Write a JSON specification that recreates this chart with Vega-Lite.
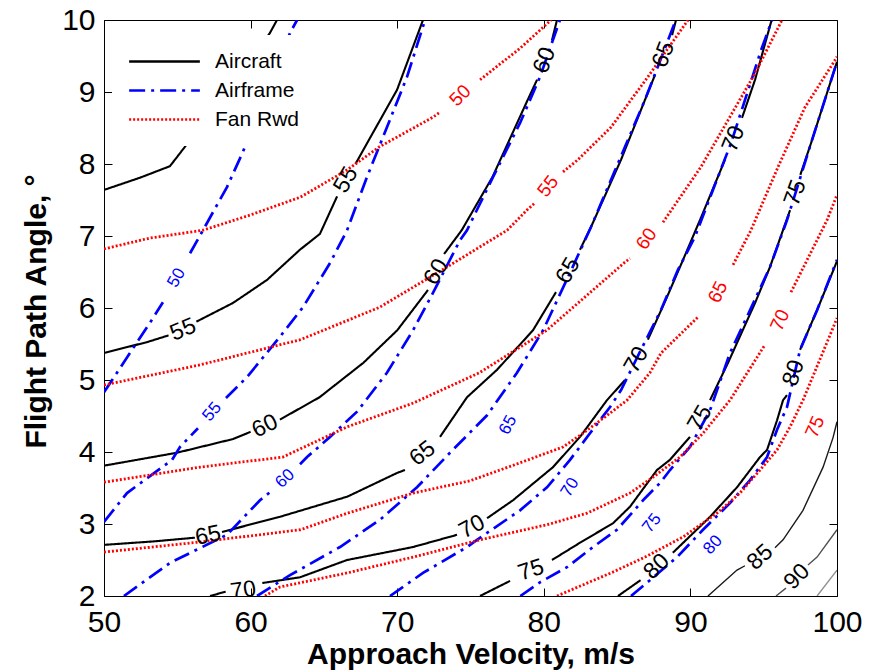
{
"$schema":"https://vega.github.io/schema/vega-lite/v6.json",
"width":733,"height":576,
"autosize":"none",
"padding":{"left":104,"top":20,"right":41,"bottom":76},
"background":"white",
"config":{
"view":{"stroke":"black","strokeWidth":1},
"axis":{"grid":false,"domain":false,"tickColor":"black","labelColor":"black","labelFont":"Liberation Sans","titleFont":"Liberation Sans","titleColor":"black","labelFontSize":30,"titleFontSize":30,"titleFontWeight":"bold","tickSize":8,"offset":-8,"tickWidth":1,"labelFlush":false,"labelOverlap":false},
"legend":{"orient":"none","legendX":8,"legendY":15,"padding":16,"fillColor":"white","symbolType":"M-5,0H5","symbolSize":200,"symbolStrokeWidth":2.6,"symbolOffset":26,"labelFontSize":21,"labelFont":"Liberation Sans","labelColor":"black","labelOffset":40,"rowPadding":7}
},
"datasets":{
"lines":[
{"s":"Aircraft","lv":50,"g":"k50","v":50,"a":7.64},{"s":"Aircraft","lv":50,"g":"k50","v":52.46,"a":7.81},{"s":"Aircraft","lv":50,"g":"k50","v":54.5,"a":7.97},{"s":"Aircraft","lv":50,"g":"k50","v":55.6,"a":8.26},{"s":"Aircraft","lv":50,"g":"k50","v":58.5,"a":9.0},{"s":"Aircraft","lv":50,"g":"k50","v":61.32,"a":9.82},{"s":"Aircraft","lv":50,"g":"k50","v":61.8,"a":10},
{"s":"Aircraft","lv":55,"g":"k55a","v":50,"a":5.375},{"s":"Aircraft","lv":55,"g":"k55a","v":53.0,"a":5.53},{"s":"Aircraft","lv":55,"g":"k55a","v":54.4,"a":5.62},
{"s":"Aircraft","lv":55,"g":"k55b","v":56.3,"a":5.81},{"s":"Aircraft","lv":55,"g":"k55b","v":58.8,"a":6.07},{"s":"Aircraft","lv":55,"g":"k55b","v":61.12,"a":6.39},{"s":"Aircraft","lv":55,"g":"k55b","v":63.37,"a":6.81},{"s":"Aircraft","lv":55,"g":"k55b","v":64.73,"a":7.03},{"s":"Aircraft","lv":55,"g":"k55b","v":65.9,"a":7.55},
{"s":"Aircraft","lv":55,"g":"k55c","v":67.15,"a":8.0},{"s":"Aircraft","lv":55,"g":"k55c","v":69.99,"a":9.03},{"s":"Aircraft","lv":55,"g":"k55c","v":71.76,"a":10},
{"s":"Aircraft","lv":60,"g":"k60a","v":50,"a":3.81},{"s":"Aircraft","lv":60,"g":"k60a","v":54.98,"a":3.99},{"s":"Aircraft","lv":60,"g":"k60a","v":58.8,"a":4.18},{"s":"Aircraft","lv":60,"g":"k60a","v":60.0,"a":4.28},
{"s":"Aircraft","lv":60,"g":"k60b","v":62.0,"a":4.45},{"s":"Aircraft","lv":60,"g":"k60b","v":64.7,"a":4.76},{"s":"Aircraft","lv":60,"g":"k60b","v":67.7,"a":5.24},{"s":"Aircraft","lv":60,"g":"k60b","v":70.0,"a":5.69},{"s":"Aircraft","lv":60,"g":"k60b","v":72.1,"a":6.25},
{"s":"Aircraft","lv":60,"g":"k60c","v":73.2,"a":6.75},{"s":"Aircraft","lv":60,"g":"k60c","v":74.4,"a":7.08},{"s":"Aircraft","lv":60,"g":"k60c","v":76.5,"a":7.82},{"s":"Aircraft","lv":60,"g":"k60c","v":78.9,"a":8.89},{"s":"Aircraft","lv":60,"g":"k60c","v":79.54,"a":9.17},
{"s":"Aircraft","lv":60,"g":"k60d","v":80.56,"a":9.72},{"s":"Aircraft","lv":60,"g":"k60d","v":80.9,"a":10},
{"s":"Aircraft","lv":65,"g":"k65a","v":50,"a":2.71},{"s":"Aircraft","lv":65,"g":"k65a","v":53.5,"a":2.76},{"s":"Aircraft","lv":65,"g":"k65a","v":56.2,"a":2.81},
{"s":"Aircraft","lv":65,"g":"k65b","v":58.05,"a":2.89},{"s":"Aircraft","lv":65,"g":"k65b","v":62.0,"a":3.1},{"s":"Aircraft","lv":65,"g":"k65b","v":66.6,"a":3.38},{"s":"Aircraft","lv":65,"g":"k65b","v":70.0,"a":3.71},{"s":"Aircraft","lv":65,"g":"k65b","v":70.53,"a":3.75},
{"s":"Aircraft","lv":65,"g":"k65c","v":72.92,"a":4.21},{"s":"Aircraft","lv":65,"g":"k65c","v":74.76,"a":4.76},{"s":"Aircraft","lv":65,"g":"k65c","v":76.8,"a":5.14},{"s":"Aircraft","lv":65,"g":"k65c","v":79.26,"a":5.69},{"s":"Aircraft","lv":65,"g":"k65c","v":80.83,"a":6.22},
{"s":"Aircraft","lv":65,"g":"k65d","v":82.47,"a":6.81},{"s":"Aircraft","lv":65,"g":"k65d","v":83.22,"a":7.125},{"s":"Aircraft","lv":65,"g":"k65d","v":85.27,"a":8.06},{"s":"Aircraft","lv":65,"g":"k65d","v":86.9,"a":8.89},{"s":"Aircraft","lv":65,"g":"k65d","v":87.59,"a":9.24},
{"s":"Aircraft","lv":65,"g":"k65e","v":88.75,"a":9.79},{"s":"Aircraft","lv":65,"g":"k65e","v":89.02,"a":10},
{"s":"Aircraft","lv":70,"g":"k70a","v":57.23,"a":2.0},{"s":"Aircraft","lv":70,"g":"k70a","v":58.3,"a":2.06},
{"s":"Aircraft","lv":70,"g":"k70b","v":60.8,"a":2.18},{"s":"Aircraft","lv":70,"g":"k70b","v":63.37,"a":2.26},{"s":"Aircraft","lv":70,"g":"k70b","v":66.58,"a":2.5},{"s":"Aircraft","lv":70,"g":"k70b","v":71.08,"a":2.68},{"s":"Aircraft","lv":70,"g":"k70b","v":74.08,"a":2.85},
{"s":"Aircraft","lv":70,"g":"k70c","v":76.13,"a":3.08},{"s":"Aircraft","lv":70,"g":"k70c","v":77.9,"a":3.33},{"s":"Aircraft","lv":70,"g":"k70c","v":80.63,"a":3.79},{"s":"Aircraft","lv":70,"g":"k70c","v":82.47,"a":4.21},{"s":"Aircraft","lv":70,"g":"k70c","v":84.31,"a":4.72},{"s":"Aircraft","lv":70,"g":"k70c","v":85.54,"a":5.0},
{"s":"Aircraft","lv":70,"g":"k70d","v":87.1,"a":5.56},{"s":"Aircraft","lv":70,"g":"k70d","v":88.4,"a":6.15},{"s":"Aircraft","lv":70,"g":"k70d","v":89.5,"a":6.67},{"s":"Aircraft","lv":70,"g":"k70d","v":90.65,"a":7.22},{"s":"Aircraft","lv":70,"g":"k70d","v":92.36,"a":8.06},
{"s":"Aircraft","lv":70,"g":"k70e","v":93.52,"a":8.64},{"s":"Aircraft","lv":70,"g":"k70e","v":94.41,"a":9.17},{"s":"Aircraft","lv":70,"g":"k70e","v":95.5,"a":9.97},{"s":"Aircraft","lv":70,"g":"k70e","v":95.57,"a":10},
{"s":"Aircraft","lv":75,"g":"k75a","v":75.65,"a":2.0},{"s":"Aircraft","lv":75,"g":"k75a","v":77.7,"a":2.21},
{"s":"Aircraft","lv":75,"g":"k75b","v":80.56,"a":2.5},{"s":"Aircraft","lv":75,"g":"k75b","v":82.47,"a":2.74},{"s":"Aircraft","lv":75,"g":"k75b","v":84.72,"a":3.01},{"s":"Aircraft","lv":75,"g":"k75b","v":85.88,"a":3.24},{"s":"Aircraft","lv":75,"g":"k75b","v":87.72,"a":3.75},{"s":"Aircraft","lv":75,"g":"k75b","v":88.6,"a":3.89},{"s":"Aircraft","lv":75,"g":"k75b","v":89.97,"a":4.21},
{"s":"Aircraft","lv":75,"g":"k75c","v":91.34,"a":4.72},{"s":"Aircraft","lv":75,"g":"k75c","v":92.57,"a":5.24},{"s":"Aircraft","lv":75,"g":"k75c","v":94.41,"a":6.07},{"s":"Aircraft","lv":75,"g":"k75c","v":95.43,"a":6.57},{"s":"Aircraft","lv":75,"g":"k75c","v":96.8,"a":7.36},
{"s":"Aircraft","lv":75,"g":"k75d","v":97.5,"a":7.85},{"s":"Aircraft","lv":75,"g":"k75d","v":98.23,"a":8.29},{"s":"Aircraft","lv":75,"g":"k75d","v":100,"a":9.42},
{"s":"Aircraft","lv":80,"g":"k80a","v":85.06,"a":2.0},{"s":"Aircraft","lv":80,"g":"k80a","v":86.6,"a":2.22},
{"s":"Aircraft","lv":80,"g":"k80b","v":88.8,"a":2.6},{"s":"Aircraft","lv":80,"g":"k80b","v":91.34,"a":3.1},{"s":"Aircraft","lv":80,"g":"k80b","v":93.18,"a":3.51},{"s":"Aircraft","lv":80,"g":"k80b","v":94.75,"a":3.93},{"s":"Aircraft","lv":80,"g":"k80b","v":95.23,"a":4.03},{"s":"Aircraft","lv":80,"g":"k80b","v":95.91,"a":4.44},{"s":"Aircraft","lv":80,"g":"k80b","v":96.32,"a":4.72},{"s":"Aircraft","lv":80,"g":"k80b","v":96.59,"a":4.79},
{"s":"Aircraft","lv":80,"g":"k80c","v":97.48,"a":5.42},{"s":"Aircraft","lv":80,"g":"k80c","v":98.64,"a":5.97},{"s":"Aircraft","lv":80,"g":"k80c","v":100,"a":6.65},
{"s":"Aircraft","lv":85,"g":"k85a","v":91.2,"a":2.0},{"s":"Aircraft","lv":85,"g":"k85a","v":93.18,"a":2.36},{"s":"Aircraft","lv":85,"g":"k85a","v":93.72,"a":2.42},
{"s":"Aircraft","lv":85,"g":"k85b","v":95.77,"a":2.67},{"s":"Aircraft","lv":85,"g":"k85b","v":96.32,"a":2.78},{"s":"Aircraft","lv":85,"g":"k85b","v":97.68,"a":3.19},{"s":"Aircraft","lv":85,"g":"k85b","v":99.05,"a":3.79},{"s":"Aircraft","lv":85,"g":"k85b","v":99.73,"a":4.2},{"s":"Aircraft","lv":85,"g":"k85b","v":100,"a":4.42},
{"s":"Aircraft","lv":90,"g":"k90a","v":95.84,"a":2.0},{"s":"Aircraft","lv":90,"g":"k90a","v":96.52,"a":2.11},
{"s":"Aircraft","lv":90,"g":"k90b","v":98.02,"a":2.43},{"s":"Aircraft","lv":90,"g":"k90b","v":98.64,"a":2.54},{"s":"Aircraft","lv":90,"g":"k90b","v":100,"a":2.92},
{"s":"Aircraft","lv":95,"g":"k95","v":98.64,"a":2.0},{"s":"Aircraft","lv":95,"g":"k95","v":100,"a":2.36},
{"s":"Airframe","lv":50,"g":"b50a","v":50,"a":4.83},{"s":"Airframe","lv":50,"g":"b50a","v":51.77,"a":5.375},{"s":"Airframe","lv":50,"g":"b50a","v":53.34,"a":5.86},{"s":"Airframe","lv":50,"g":"b50a","v":54.02,"a":6.08},
{"s":"Airframe","lv":50,"g":"b50b","v":55.87,"a":6.76},{"s":"Airframe","lv":50,"g":"b50b","v":56.75,"a":7.08},{"s":"Airframe","lv":50,"g":"b50b","v":58.39,"a":7.68},{"s":"Airframe","lv":50,"g":"b50b","v":59.48,"a":8.17},{"s":"Airframe","lv":50,"g":"b50b","v":61.32,"a":9.1},{"s":"Airframe","lv":50,"g":"b50b","v":62.69,"a":9.82},{"s":"Airframe","lv":50,"g":"b50b","v":63.17,"a":10},
{"s":"Airframe","lv":55,"g":"b55a","v":50,"a":3.03},{"s":"Airframe","lv":55,"g":"b55a","v":51.57,"a":3.43},{"s":"Airframe","lv":55,"g":"b55a","v":54.64,"a":3.89},{"s":"Airframe","lv":55,"g":"b55a","v":55.18,"a":4.07},{"s":"Airframe","lv":55,"g":"b55a","v":56.41,"a":4.33},
{"s":"Airframe","lv":55,"g":"b55b","v":58.32,"a":4.75},{"s":"Airframe","lv":55,"g":"b55b","v":59.75,"a":5.04},{"s":"Airframe","lv":55,"g":"b55b","v":62.0,"a":5.6},{"s":"Airframe","lv":55,"g":"b55b","v":63.57,"a":6.01},{"s":"Airframe","lv":55,"g":"b55b","v":65.42,"a":6.625},{"s":"Airframe","lv":55,"g":"b55b","v":66.58,"a":7.08},{"s":"Airframe","lv":55,"g":"b55b","v":67.94,"a":7.82},{"s":"Airframe","lv":55,"g":"b55b","v":69.3,"a":8.51},{"s":"Airframe","lv":55,"g":"b55b","v":70.67,"a":9.21},{"s":"Airframe","lv":55,"g":"b55b","v":71.9,"a":10},
{"s":"Airframe","lv":60,"g":"b60a","v":51.36,"a":2.0},{"s":"Airframe","lv":60,"g":"b60a","v":54.5,"a":2.46},{"s":"Airframe","lv":60,"g":"b60a","v":58.39,"a":2.85},{"s":"Airframe","lv":60,"g":"b60a","v":60.64,"a":3.33},{"s":"Airframe","lv":60,"g":"b60a","v":61.32,"a":3.44},
{"s":"Airframe","lv":60,"g":"b60b","v":63.37,"a":3.83},{"s":"Airframe","lv":60,"g":"b60b","v":63.85,"a":3.93},{"s":"Airframe","lv":60,"g":"b60b","v":65.42,"a":4.21},{"s":"Airframe","lv":60,"g":"b60b","v":67.26,"a":4.56},{"s":"Airframe","lv":60,"g":"b60b","v":69.3,"a":5.1},{"s":"Airframe","lv":60,"g":"b60b","v":71.08,"a":5.69},{"s":"Airframe","lv":60,"g":"b60b","v":72.44,"a":6.21},{"s":"Airframe","lv":60,"g":"b60b","v":74.28,"a":6.94},{"s":"Airframe","lv":60,"g":"b60b","v":74.76,"a":7.08},{"s":"Airframe","lv":60,"g":"b60b","v":76.54,"a":7.82},{"s":"Airframe","lv":60,"g":"b60b","v":78.38,"a":8.57},{"s":"Airframe","lv":60,"g":"b60b","v":79.74,"a":9.21},{"s":"Airframe","lv":60,"g":"b60b","v":81.1,"a":10},
{"s":"Airframe","lv":65,"g":"b65","v":60.44,"a":2.0},{"s":"Airframe","lv":65,"g":"b65","v":62.69,"a":2.29},{"s":"Airframe","lv":65,"g":"b65","v":66.1,"a":2.68},{"s":"Airframe","lv":65,"g":"b65","v":68.83,"a":3.06},{"s":"Airframe","lv":65,"g":"b65","v":71.35,"a":3.51},{"s":"Airframe","lv":65,"g":"b65","v":73.6,"a":3.99},{"s":"Airframe","lv":65,"g":"b65","v":76.13,"a":4.51},{"s":"Airframe","lv":65,"g":"b65","v":78.17,"a":5.1},{"s":"Airframe","lv":65,"g":"b65","v":79.95,"a":5.69},{"s":"Airframe","lv":65,"g":"b65","v":81.79,"a":6.49},{"s":"Airframe","lv":65,"g":"b65","v":83.22,"a":7.125},{"s":"Airframe","lv":65,"g":"b65","v":85.54,"a":8.24},{"s":"Airframe","lv":65,"g":"b65","v":86.9,"a":8.89},{"s":"Airframe","lv":65,"g":"b65","v":88.95,"a":9.97},{"s":"Airframe","lv":65,"g":"b65","v":89.02,"a":10},
{"s":"Airframe","lv":70,"g":"b70","v":69.51,"a":2.0},{"s":"Airframe","lv":70,"g":"b70","v":71.76,"a":2.32},{"s":"Airframe","lv":70,"g":"b70","v":74.76,"a":2.68},{"s":"Airframe","lv":70,"g":"b70","v":75.44,"a":2.78},{"s":"Airframe","lv":70,"g":"b70","v":78.38,"a":3.19},{"s":"Airframe","lv":70,"g":"b70","v":80.22,"a":3.51},{"s":"Airframe","lv":70,"g":"b70","v":81.79,"a":3.89},{"s":"Airframe","lv":70,"g":"b70","v":83.15,"a":4.26},{"s":"Airframe","lv":70,"g":"b70","v":84.52,"a":4.625},{"s":"Airframe","lv":70,"g":"b70","v":85.27,"a":4.86},{"s":"Airframe","lv":70,"g":"b70","v":86.63,"a":5.42},{"s":"Airframe","lv":70,"g":"b70","v":87.99,"a":5.97},{"s":"Airframe","lv":70,"g":"b70","v":89.15,"a":6.53},{"s":"Airframe","lv":70,"g":"b70","v":90.31,"a":6.99},{"s":"Airframe","lv":70,"g":"b70","v":92.77,"a":8.29},{"s":"Airframe","lv":70,"g":"b70","v":94.82,"a":9.58},{"s":"Airframe","lv":70,"g":"b70","v":95.57,"a":10},
{"s":"Airframe","lv":75,"g":"b75","v":78.4,"a":2.0},{"s":"Airframe","lv":75,"g":"b75","v":79.74,"a":2.19},{"s":"Airframe","lv":75,"g":"b75","v":81.58,"a":2.4},{"s":"Airframe","lv":75,"g":"b75","v":83.36,"a":2.68},{"s":"Airframe","lv":75,"g":"b75","v":84.99,"a":2.92},{"s":"Airframe","lv":75,"g":"b75","v":86.77,"a":3.33},{"s":"Airframe","lv":75,"g":"b75","v":87.93,"a":3.57},{"s":"Airframe","lv":75,"g":"b75","v":88.61,"a":3.75},{"s":"Airframe","lv":75,"g":"b75","v":89.97,"a":4.07},{"s":"Airframe","lv":75,"g":"b75","v":91.34,"a":4.58},{"s":"Airframe","lv":75,"g":"b75","v":92.7,"a":5.375},{"s":"Airframe","lv":75,"g":"b75","v":94.07,"a":5.97},{"s":"Airframe","lv":75,"g":"b75","v":95.43,"a":6.57},{"s":"Airframe","lv":75,"g":"b75","v":96.59,"a":7.22},{"s":"Airframe","lv":75,"g":"b75","v":98.23,"a":8.29},{"s":"Airframe","lv":75,"g":"b75","v":100,"a":9.42},
{"s":"Airframe","lv":80,"g":"b80","v":85.95,"a":2.0},{"s":"Airframe","lv":80,"g":"b80","v":87.24,"a":2.22},{"s":"Airframe","lv":80,"g":"b80","v":89.09,"a":2.54},{"s":"Airframe","lv":80,"g":"b80","v":90.86,"a":2.92},{"s":"Airframe","lv":80,"g":"b80","v":92.7,"a":3.29},{"s":"Airframe","lv":80,"g":"b80","v":94.07,"a":3.61},{"s":"Airframe","lv":80,"g":"b80","v":95.23,"a":3.93},{"s":"Airframe","lv":80,"g":"b80","v":95.91,"a":4.31},{"s":"Airframe","lv":80,"g":"b80","v":96.59,"a":4.625},{"s":"Airframe","lv":80,"g":"b80","v":97.48,"a":5.42},{"s":"Airframe","lv":80,"g":"b80","v":98.64,"a":5.97},{"s":"Airframe","lv":80,"g":"b80","v":100,"a":6.67},
{"s":"Fan Rwd","lv":50,"g":"r50a","v":50,"a":6.82},{"s":"Fan Rwd","lv":50,"g":"r50a","v":53.1,"a":6.97},{"s":"Fan Rwd","lv":50,"g":"r50a","v":56.75,"a":7.08},{"s":"Fan Rwd","lv":50,"g":"r50a","v":59.96,"a":7.29},{"s":"Fan Rwd","lv":50,"g":"r50a","v":63.4,"a":7.54},{"s":"Fan Rwd","lv":50,"g":"r50a","v":66.6,"a":7.92},{"s":"Fan Rwd","lv":50,"g":"r50a","v":68.8,"a":8.24},{"s":"Fan Rwd","lv":50,"g":"r50a","v":72.44,"a":8.65},{"s":"Fan Rwd","lv":50,"g":"r50a","v":72.92,"a":8.72},
{"s":"Fan Rwd","lv":50,"g":"r50b","v":75.65,"a":9.17},{"s":"Fan Rwd","lv":50,"g":"r50b","v":78.4,"a":9.61},{"s":"Fan Rwd","lv":50,"g":"r50b","v":80.5,"a":10},
{"s":"Fan Rwd","lv":55,"g":"r55a","v":50,"a":4.93},{"s":"Fan Rwd","lv":55,"g":"r55a","v":56.55,"a":5.21},{"s":"Fan Rwd","lv":55,"g":"r55a","v":63.4,"a":5.56},{"s":"Fan Rwd","lv":55,"g":"r55a","v":68.8,"a":6.01},{"s":"Fan Rwd","lv":55,"g":"r55a","v":73.4,"a":6.57},{"s":"Fan Rwd","lv":55,"g":"r55a","v":77.5,"a":7.08},{"s":"Fan Rwd","lv":55,"g":"r55a","v":78.85,"a":7.36},{"s":"Fan Rwd","lv":55,"g":"r55a","v":79.4,"a":7.46},
{"s":"Fan Rwd","lv":55,"g":"r55b","v":81.31,"a":7.89},{"s":"Fan Rwd","lv":55,"g":"r55b","v":82.33,"a":8.06},{"s":"Fan Rwd","lv":55,"g":"r55b","v":84.58,"a":8.51},{"s":"Fan Rwd","lv":55,"g":"r55b","v":87.1,"a":9.21},{"s":"Fan Rwd","lv":55,"g":"r55b","v":89.84,"a":10},
{"s":"Fan Rwd","lv":60,"g":"r60a","v":50,"a":3.58},{"s":"Fan Rwd","lv":60,"g":"r60a","v":56.55,"a":3.79},{"s":"Fan Rwd","lv":60,"g":"r60a","v":62.2,"a":3.93},{"s":"Fan Rwd","lv":60,"g":"r60a","v":66.6,"a":4.35},{"s":"Fan Rwd","lv":60,"g":"r60a","v":71.1,"a":4.68},{"s":"Fan Rwd","lv":60,"g":"r60a","v":75.6,"a":5.1},{"s":"Fan Rwd","lv":60,"g":"r60a","v":80.2,"a":5.69},{"s":"Fan Rwd","lv":60,"g":"r60a","v":85.5,"a":6.63},{"s":"Fan Rwd","lv":60,"g":"r60a","v":85.88,"a":6.69},
{"s":"Fan Rwd","lv":60,"g":"r60b","v":88.13,"a":7.19},{"s":"Fan Rwd","lv":60,"g":"r60b","v":90.72,"a":7.96},{"s":"Fan Rwd","lv":60,"g":"r60b","v":92.57,"a":8.61},{"s":"Fan Rwd","lv":60,"g":"r60b","v":94.41,"a":9.26},{"s":"Fan Rwd","lv":60,"g":"r60b","v":96.25,"a":10},
{"s":"Fan Rwd","lv":65,"g":"r65a","v":50,"a":2.61},{"s":"Fan Rwd","lv":65,"g":"r65a","v":56.55,"a":2.75},{"s":"Fan Rwd","lv":65,"g":"r65a","v":63.4,"a":2.92},{"s":"Fan Rwd","lv":65,"g":"r65a","v":66.6,"a":3.15},{"s":"Fan Rwd","lv":65,"g":"r65a","v":71.1,"a":3.43},{"s":"Fan Rwd","lv":65,"g":"r65a","v":74.97,"a":3.6},{"s":"Fan Rwd","lv":65,"g":"r65a","v":78.38,"a":3.85},{"s":"Fan Rwd","lv":65,"g":"r65a","v":81.31,"a":4.07},{"s":"Fan Rwd","lv":65,"g":"r65a","v":82.67,"a":4.26},{"s":"Fan Rwd","lv":65,"g":"r65a","v":84.52,"a":4.54},{"s":"Fan Rwd","lv":65,"g":"r65a","v":85.68,"a":4.72},{"s":"Fan Rwd","lv":65,"g":"r65a","v":87.24,"a":5.1},{"s":"Fan Rwd","lv":65,"g":"r65a","v":88.0,"a":5.375},{"s":"Fan Rwd","lv":65,"g":"r65a","v":90.52,"a":5.875},
{"s":"Fan Rwd","lv":65,"g":"r65b","v":92.91,"a":6.6},{"s":"Fan Rwd","lv":65,"g":"r65b","v":94.13,"a":7.08},{"s":"Fan Rwd","lv":65,"g":"r65b","v":95.98,"a":7.96},{"s":"Fan Rwd","lv":65,"g":"r65b","v":97.82,"a":8.79},{"s":"Fan Rwd","lv":65,"g":"r65b","v":99.86,"a":9.44},{"s":"Fan Rwd","lv":65,"g":"r65b","v":100,"a":9.49},
{"s":"Fan Rwd","lv":70,"g":"r70a","v":60.98,"a":2.0},{"s":"Fan Rwd","lv":70,"g":"r70a","v":62.0,"a":2.125},{"s":"Fan Rwd","lv":70,"g":"r70a","v":66.58,"a":2.32},{"s":"Fan Rwd","lv":70,"g":"r70a","v":71.08,"a":2.54},{"s":"Fan Rwd","lv":70,"g":"r70a","v":75.65,"a":2.78},{"s":"Fan Rwd","lv":70,"g":"r70a","v":80.22,"a":2.99},{"s":"Fan Rwd","lv":70,"g":"r70a","v":82.95,"a":3.15},{"s":"Fan Rwd","lv":70,"g":"r70a","v":85.88,"a":3.43},{"s":"Fan Rwd","lv":70,"g":"r70a","v":87.45,"a":3.65},{"s":"Fan Rwd","lv":70,"g":"r70a","v":89.29,"a":3.93},{"s":"Fan Rwd","lv":70,"g":"r70a","v":90.86,"a":4.26},{"s":"Fan Rwd","lv":70,"g":"r70a","v":92.7,"a":4.72},{"s":"Fan Rwd","lv":70,"g":"r70a","v":95.09,"a":5.49},
{"s":"Fan Rwd","lv":70,"g":"r70b","v":96.86,"a":6.22},{"s":"Fan Rwd","lv":70,"g":"r70b","v":99.32,"a":7.22},{"s":"Fan Rwd","lv":70,"g":"r70b","v":100,"a":7.57},
{"s":"Fan Rwd","lv":75,"g":"r75","v":80.9,"a":2.0},{"s":"Fan Rwd","lv":75,"g":"r75","v":82.33,"a":2.125},{"s":"Fan Rwd","lv":75,"g":"r75","v":84.58,"a":2.32},{"s":"Fan Rwd","lv":75,"g":"r75","v":86.9,"a":2.54},{"s":"Fan Rwd","lv":75,"g":"r75","v":89.5,"a":2.82},{"s":"Fan Rwd","lv":75,"g":"r75","v":91.81,"a":3.15},{"s":"Fan Rwd","lv":75,"g":"r75","v":93.38,"a":3.43},{"s":"Fan Rwd","lv":75,"g":"r75","v":94.75,"a":3.75},{"s":"Fan Rwd","lv":75,"g":"r75","v":95.91,"a":4.03},{"s":"Fan Rwd","lv":75,"g":"r75","v":96.8,"a":4.35},{"s":"Fan Rwd","lv":75,"g":"r75","v":97.68,"a":4.72},{"s":"Fan Rwd","lv":75,"g":"r75","v":99.66,"a":5.69},{"s":"Fan Rwd","lv":75,"g":"r75","v":100,"a":5.86}
],
"labels":[
{"s":"Aircraft","lv":"55","v":55.39,"a":5.7,"r":-22},
{"s":"Aircraft","lv":"55","v":66.5,"a":7.78,"r":-60},
{"s":"Aircraft","lv":"60","v":60.98,"a":4.36,"r":-26},
{"s":"Aircraft","lv":"60","v":72.66,"a":6.5,"r":-60},
{"s":"Aircraft","lv":"60","v":80.05,"a":9.44,"r":-69},
{"s":"Aircraft","lv":"65","v":57.1,"a":2.84,"r":-12},
{"s":"Aircraft","lv":"65","v":71.72,"a":3.98,"r":-38},
{"s":"Aircraft","lv":"65","v":81.65,"a":6.52,"r":-60},
{"s":"Aircraft","lv":"65","v":88.17,"a":9.52,"r":-69},
{"s":"Aircraft","lv":"70","v":59.5,"a":2.08,"r":-8},
{"s":"Aircraft","lv":"70","v":75.1,"a":2.96,"r":-28},
{"s":"Aircraft","lv":"70","v":86.32,"a":5.28,"r":-60},
{"s":"Aircraft","lv":"70","v":92.94,"a":8.35,"r":-68},
{"s":"Aircraft","lv":"75","v":79.13,"a":2.36,"r":-18},
{"s":"Aircraft","lv":"75","v":90.65,"a":4.47,"r":-60},
{"s":"Aircraft","lv":"75","v":97.15,"a":7.6,"r":-70},
{"s":"Aircraft","lv":"80","v":87.7,"a":2.41,"r":-44},
{"s":"Aircraft","lv":"80","v":97.04,"a":5.1,"r":-72},
{"s":"Aircraft","lv":"85","v":94.75,"a":2.54,"r":-42},
{"s":"Aircraft","lv":"90","v":97.27,"a":2.27,"r":-46},
{"s":"Airframe","lv":"50","v":54.95,"a":6.42,"r":-61},
{"s":"Airframe","lv":"55","v":57.37,"a":4.56,"r":-50},
{"s":"Airframe","lv":"60","v":62.35,"a":3.63,"r":-43},
{"s":"Airframe","lv":"65","v":77.56,"a":4.375,"r":-62},
{"s":"Airframe","lv":"70","v":81.79,"a":3.51,"r":-58},
{"s":"Airframe","lv":"75","v":87.38,"a":3.01,"r":-52},
{"s":"Airframe","lv":"80","v":91.54,"a":2.71,"r":-48},
{"s":"Fan Rwd","lv":"50","v":74.3,"a":8.95,"r":-45},
{"s":"Fan Rwd","lv":"55","v":80.29,"a":7.69,"r":-52},
{"s":"Fan Rwd","lv":"60","v":87.0,"a":6.96,"r":-56},
{"s":"Fan Rwd","lv":"65","v":91.88,"a":6.22,"r":-64},
{"s":"Fan Rwd","lv":"70","v":96.11,"a":5.83,"r":-66},
{"s":"Fan Rwd","lv":"75","v":98.5,"a":4.35,"r":-66}
]
},
"layer":[
{"data":{"name":"lines"},
 "transform":[{"filter":"datum.lv < 85 && datum.s == 'Aircraft'"}],
 "mark":{"type":"line","strokeWidth":2.1,"clip":true,"strokeCap":"butt"},
 "encoding":{
  "x":{"field":"v","type":"quantitative","scale":{"domain":[50,100],"nice":false,"zero":false},"axis":{"orient":"bottom","values":[50,60,70,80,90,100],"title":"Approach Velocity, m/s","labelPadding":11,"titleY":75,"titleBaseline":"alphabetic"}},
  "y":{"field":"a","type":"quantitative","scale":{"domain":[2,10],"nice":false,"zero":false},"axis":{"orient":"left","values":[2,3,4,5,6,7,8,9,10],"title":"Flight Path Angle, °","labelPadding":9,"titleX":-67,"titleY":291,"titleBaseline":"alphabetic"}},
  "color":{"field":"s","type":"nominal","title":null,"scale":{"domain":["Aircraft","Airframe","Fan Rwd"],"range":["#000000","#0000ff","#ff0000"]}},
  "strokeDash":{"field":"s","type":"nominal","title":null,"scale":{"domain":["Aircraft","Airframe","Fan Rwd"],"range":[[1,0],[16,6,3,6],[2,2]]}},
  "detail":{"field":"g"}
 }},
{"data":{"name":"lines"},
 "transform":[{"filter":"datum.s == 'Airframe'"}],
 "mark":{"type":"line","strokeWidth":2.7,"clip":true,"strokeCap":"butt"},
 "encoding":{
  "x":{"field":"v","type":"quantitative","scale":{"domain":[50,100],"nice":false,"zero":false},"axis":null},
  "y":{"field":"a","type":"quantitative","scale":{"domain":[2,10],"nice":false,"zero":false},"axis":null},
  "color":{"field":"s","type":"nominal","title":null,"scale":{"domain":["Aircraft","Airframe","Fan Rwd"],"range":["#000000","#0000ff","#ff0000"]}},
  "strokeDash":{"field":"s","type":"nominal","title":null,"scale":{"domain":["Aircraft","Airframe","Fan Rwd"],"range":[[1,0],[16,6,3,6],[2,2]]}},
  "detail":{"field":"g"}
 }},
{"data":{"name":"lines"},
 "transform":[{"filter":"datum.s == 'Fan Rwd'"}],
 "mark":{"type":"line","strokeWidth":2.8,"clip":true,"strokeCap":"butt"},
 "encoding":{
  "x":{"field":"v","type":"quantitative","scale":{"domain":[50,100],"nice":false,"zero":false},"axis":null},
  "y":{"field":"a","type":"quantitative","scale":{"domain":[2,10],"nice":false,"zero":false},"axis":null},
  "color":{"field":"s","type":"nominal","title":null,"scale":{"domain":["Aircraft","Airframe","Fan Rwd"],"range":["#000000","#0000ff","#ff0000"]}},
  "strokeDash":{"field":"s","type":"nominal","title":null,"scale":{"domain":["Aircraft","Airframe","Fan Rwd"],"range":[[1,0],[16,6,3,6],[2,2]]}},
  "detail":{"field":"g"}
 }},
{"data":{"name":"lines"},
 "transform":[{"filter":"datum.lv >= 85 && datum.s == 'Aircraft'"}],
 "mark":{"type":"line","strokeWidth":1.4,"clip":true},
 "encoding":{
  "x":{"field":"v","type":"quantitative","scale":{"domain":[50,100],"nice":false,"zero":false},"axis":{"orient":"top","values":[50,60,70,80,90,100],"labels":false,"title":null}},
  "y":{"field":"a","type":"quantitative","scale":{"domain":[2,10],"nice":false,"zero":false},"axis":{"orient":"right","values":[2,3,4,5,6,7,8,9,10],"labels":false,"title":null}},
  "stroke":{"field":"lv","type":"ordinal","scale":{"domain":[85,90,95],"range":["#1a1a1a","#505050","#909090"]},"legend":null},
  "detail":{"field":"g"}
 }},
{"data":{"name":"labels"},
 "transform":[{"filter":"datum.s == 'Aircraft'"}],
 "mark":{"type":"text","font":"Liberation Sans","fontSize":23,"color":"black","clip":true,"align":"center","baseline":"middle"},
 "encoding":{
  "x":{"field":"v","type":"quantitative","scale":{"domain":[50,100],"nice":false,"zero":false},"axis":null},
  "y":{"field":"a","type":"quantitative","scale":{"domain":[2,10],"nice":false,"zero":false},"axis":null},
  "text":{"field":"lv","type":"nominal"},
  "angle":{"field":"r","type":"quantitative","scale":null}
 }},
{"data":{"name":"labels"},
 "transform":[{"filter":"datum.s == 'Airframe'"}],
 "mark":{"type":"text","font":"Liberation Sans","fontSize":17,"color":"#0000ff","clip":true,"align":"center","baseline":"middle"},
 "encoding":{
  "x":{"field":"v","type":"quantitative","scale":{"domain":[50,100],"nice":false,"zero":false},"axis":null},
  "y":{"field":"a","type":"quantitative","scale":{"domain":[2,10],"nice":false,"zero":false},"axis":null},
  "text":{"field":"lv","type":"nominal"},
  "angle":{"field":"r","type":"quantitative","scale":null}
 }},
{"data":{"name":"labels"},
 "transform":[{"filter":"datum.s == 'Fan Rwd'"}],
 "mark":{"type":"text","font":"Liberation Sans","fontSize":19,"color":"#ff0000","clip":true,"align":"center","baseline":"middle"},
 "encoding":{
  "x":{"field":"v","type":"quantitative","scale":{"domain":[50,100],"nice":false,"zero":false},"axis":null},
  "y":{"field":"a","type":"quantitative","scale":{"domain":[2,10],"nice":false,"zero":false},"axis":null},
  "text":{"field":"lv","type":"nominal"},
  "angle":{"field":"r","type":"quantitative","scale":null}
 }}
],
"resolve":{"axis":{"x":"independent","y":"independent"}}
}
